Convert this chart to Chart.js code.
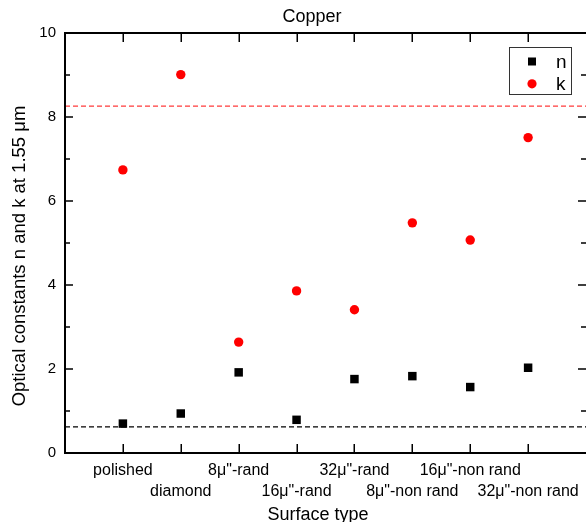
<!DOCTYPE html>
<html><head><meta charset="utf-8">
<script src="https://cdn.jsdelivr.net/npm/chart.js@4.4.1/dist/chart.umd.min.js"></script>
<style>html,body{margin:0;padding:0;background:#fff}canvas{display:block}</style>
</head><body>
<canvas id="c" width="586" height="522"></canvas>
<script>
const categories = ['polished', 'diamond', '8\u03BC"-rand', '16\u03BC"-rand', '32\u03BC"-rand', '8\u03BC"-non rand', '16\u03BC"-non rand', '32\u03BC"-non rand'];
const nValues = [0.70, 0.94, 1.92, 0.79, 1.76, 1.83, 1.57, 2.03];
const kValues = [6.74, 9.01, 2.64, 3.86, 3.41, 5.48, 5.07, 7.51];
const nReference = 0.62;
const kReference = 8.26;
const yTickValues = [0, 2, 4, 6, 8, 10];
const chartTitle = 'Copper';
const xTitle = 'Surface type';
const yTitle = 'Optical constants n and k at 1.55 \u03BCm';

const FONT = '"Liberation Sans", Arial, sans-serif';

const toPoints = vals => vals.map((v, i) => ({x: i, y: v}));
const hLine = v => [{x: -1, y: v}, {x: categories.length, y: v}];

const decor = {
  id: 'decor',
  afterDraw(chart) {
    const {ctx, chartArea: a, scales: {x, y}} = chart;
    ctx.save();
    // frame
    ctx.strokeStyle = '#000';
    ctx.lineWidth = 2;
    ctx.beginPath();
    ctx.moveTo(a.left, a.top); ctx.lineTo(a.right + 2, a.top);
    ctx.moveTo(a.left, a.top - 1); ctx.lineTo(a.left, a.bottom + 1);
    ctx.moveTo(a.left - 1, a.bottom); ctx.lineTo(a.right + 2, a.bottom);
    ctx.stroke();
    // ticks
    ctx.lineWidth = 1.5;
    ctx.beginPath();
    categories.forEach((c, i) => {
      const px = Math.round(x.getPixelForValue(i)) + 0.25;
      ctx.moveTo(px, a.bottom); ctx.lineTo(px, a.bottom - 9);
      ctx.moveTo(px, a.top); ctx.lineTo(px, a.top + 9);
    });
    for (let v = 0; v <= 10; v++) {
      const py = y.getPixelForValue(v);
      const len = v % 2 === 0 ? 8 : 5;
      ctx.moveTo(a.left, py); ctx.lineTo(a.left + len, py);
      ctx.moveTo(a.right, py); ctx.lineTo(a.right - len, py);
    }
    ctx.stroke();
    // titles
    ctx.fillStyle = '#000';
    ctx.font = '18px ' + FONT;
    ctx.textAlign = 'center';
    ctx.textBaseline = 'alphabetic';
    ctx.fillText(chartTitle, 312, 22);
    ctx.fillText(xTitle, 318, 520);
    ctx.save();
    ctx.translate(25, 256);
    ctx.rotate(-Math.PI / 2);
    ctx.font = '18.5px ' + FONT;
    ctx.fillText(yTitle, 0, 0);
    ctx.restore();
    // legend
    ctx.strokeStyle = '#333';
    ctx.lineWidth = 1;
    ctx.strokeRect(509.5, 47.5, 62, 47);
    const items = chart.data.datasets.filter(d => d.inLegend);
    items.forEach((d, i) => {
      const cy = 61.5 + i * 22.3;
      ctx.fillStyle = d.backgroundColor;
      if (d.pointStyle === 'rect') {
        ctx.fillRect(532 - 4, cy - 4, 8, 8);
      } else {
        ctx.beginPath(); ctx.arc(532, cy, 4.6, 0, Math.PI * 2); ctx.fill();
      }
      ctx.fillStyle = '#000';
      ctx.font = '19px ' + FONT;
      ctx.textAlign = 'left';
      ctx.fillText(d.label, 556, cy + 6.5);
    });
    ctx.restore();
  }
};

new Chart(document.getElementById('c'), {
  type: 'scatter',
  data: {
    datasets: [
      {label: 'n', inLegend: true, data: toPoints(nValues), pointStyle: 'rect', pointRadius: 6, pointHoverRadius: 6,
       backgroundColor: '#000', borderColor: '#000', borderWidth: 0},
      {label: 'k', inLegend: true, data: toPoints(kValues), pointStyle: 'circle', pointRadius: 4.7, pointHoverRadius: 4.7,
       backgroundColor: '#ff0000', borderColor: '#ff0000', borderWidth: 0},
      {label: 'k ref', type: 'line', data: hLine(kReference), borderColor: '#ff3b3b', borderWidth: 1.3,
       borderDash: [5, 3], pointRadius: 0, fill: false},
      {label: 'n ref', type: 'line', data: hLine(nReference), borderColor: '#000', borderWidth: 1.3,
       borderDash: [5, 3], pointRadius: 0, fill: false}
    ]
  },
  options: {
    responsive: false,
    animation: false,
    devicePixelRatio: 1,
    layout: {autoPadding: false, padding: {top: 33, right: 0, bottom: 0, left: 0}},
    plugins: {legend: {display: false}, title: {display: false}, tooltip: {enabled: false}},
    scales: {
      x: {
        type: 'linear', min: -1, max: categories.length,
        grid: {display: false, drawTicks: false},
        border: {display: false},
        ticks: {
          stepSize: 1, autoSkip: false, maxRotation: 0, minRotation: 0, padding: 7,
          color: '#000', font: {family: FONT, size: 16, lineHeight: 1.3},
          callback: (v) => {
            const i = Math.round(v);
            if (i < 0 || i >= categories.length) return '';
            return i % 2 === 0 ? [categories[i], ''] : ['', categories[i]];
          }
        },
        afterFit: s => { s.height = 69; s.paddingLeft = 0; s.paddingRight = 0; }
      },
      y: {
        min: 0, max: 10,
        grid: {display: false, drawTicks: false},
        border: {display: false},
        afterBuildTicks: s => { s.ticks = yTickValues.map(v => ({value: v})); },
        ticks: {padding: 9, color: '#000', font: {family: FONT, size: 15}},
        afterFit: s => { s.width = 65; s.paddingTop = 0; s.paddingBottom = 0; }
      }
    }
  },
  plugins: [decor]
});
</script>
</body></html>
